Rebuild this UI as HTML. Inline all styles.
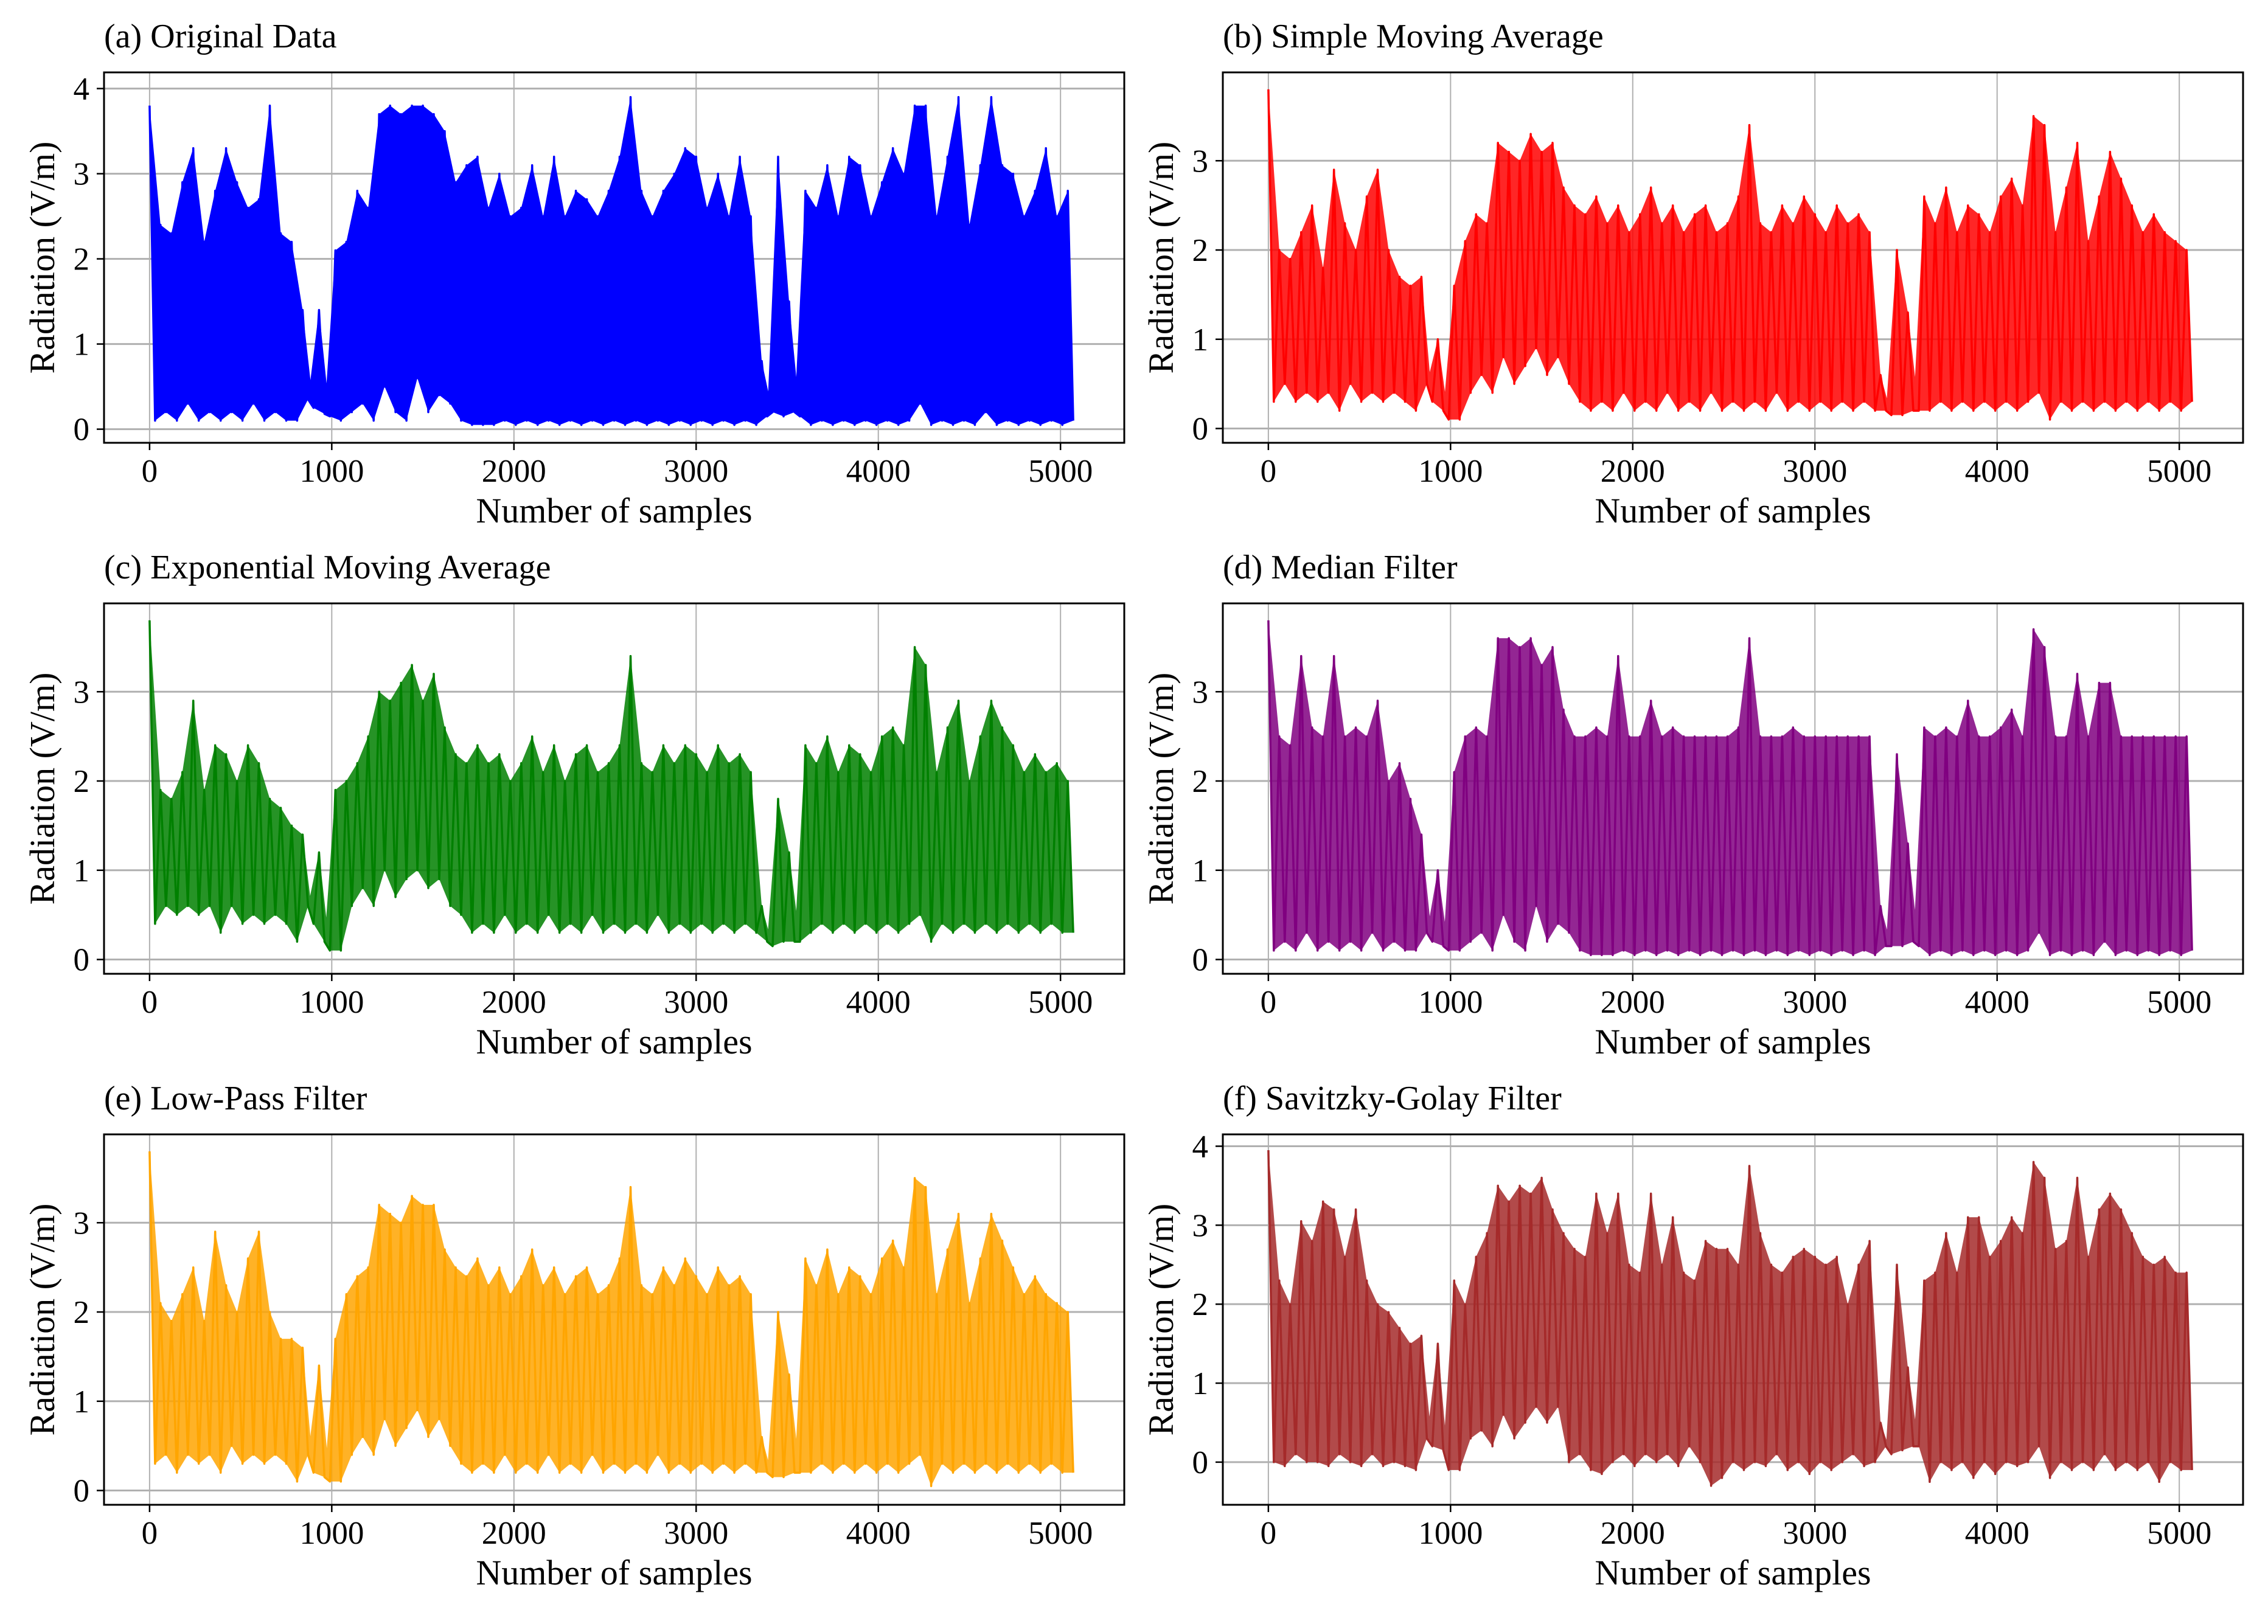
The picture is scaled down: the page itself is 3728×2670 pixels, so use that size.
<!DOCTYPE html>
<html><head><meta charset="utf-8"><style>
html,body{margin:0;padding:0;background:#fff;}
svg{display:block;}
text{font-family:"Liberation Serif","DejaVu Serif",serif;fill:#000;}
</style></head><body>
<svg id="chart" width="3728" height="2670" viewBox="0 0 3728 2670" xmlns="http://www.w3.org/2000/svg"></svg>
<script>
const sampleStep = 30;
const xTicks = [0,1000,2000,3000,4000,5000];
const seriesA = [3.8,0.1,2.4,0.2,2.3,0.1,2.9,0.3,3.3,0.1,2.2,0.2,2.8,0.1,3.3,0.2,2.9,0.1,2.6,0.3,2.7,0.1,3.8,0.2,2.3,0.1,2.2,0.1,
1.4,0.35,0.25,1.4,0.18,0.15, 2.1,0.1,2.2,0.2,
2.8,0.3,2.6,0.1,3.7,0.5,3.8,0.2,3.7,0.1,3.8,0.6,3.8,0.2,3.7,0.4,3.5,0.3,2.9,0.1,3.1,0.05,3.2,
0.05,2.6,0.05,3.0,0.1,2.5,0.05,2.6,0.1,3.1,0.05,2.5,0.1,3.2,0.05,2.5,0.1,2.8,0.05,2.7,0.1,2.5,0.05,2.8,0.1,3.2,0.05,3.9,0.1,2.8,0.05,2.5,0.1,2.8,0.05,3.0,0.1,3.3,0.05,3.2,0.1,2.6,0.05,3.0,0.1,2.5,0.05,3.2,0.1,2.5,0.05,
0.8,0.15,0.2,3.2,0.15,1.5,0.2,0.15,
2.8,0.05,2.6,0.1,3.1,0.05,2.5,0.1,3.2,0.05,3.1,0.1,2.5,0.05,2.9,0.1,3.3,0.05,3.0,0.1,3.8,0.3,3.8,0.05,2.5,0.1,3.2,0.05,3.9,0.1,2.4,0.05,3.1,0.2,3.9,0.05,3.1,0.1,3.0,0.05,2.5,0.1,2.8,0.05,3.3,0.1,2.5,0.05,2.8,0.1];
const seriesB = [3.8,0.3,2.0,0.5,1.9,0.3,2.2,0.4,2.5,0.3,1.8,0.4,2.9,0.2,2.3,0.5,2.0,0.3,2.6,0.4,2.9,0.3,2.0,0.4,1.7,0.3,1.6,0.2,
1.7,0.5,0.3,1.0,0.2,0.1, 1.6,0.1,2.1,0.4,
2.4,0.6,2.3,0.4,3.2,0.8,3.1,0.5,3.0,0.7,3.3,0.9,3.1,0.6,3.2,0.8,2.7,0.5,2.5,0.3,2.4,0.2,2.6,
0.3,2.3,0.2,2.5,0.4,2.2,0.2,2.4,0.3,2.7,0.2,2.3,0.4,2.5,0.2,2.2,0.3,2.4,0.2,2.5,0.4,2.2,0.2,2.3,0.3,2.6,0.2,3.4,0.3,2.3,0.2,2.2,0.4,2.5,0.2,2.3,0.3,2.6,0.2,2.4,0.3,2.2,0.2,2.5,0.3,2.3,0.2,2.4,0.3,2.2,0.2,
0.6,0.2,0.15,2.0,0.15,1.3,0.2,0.2,
2.6,0.2,2.3,0.3,2.7,0.2,2.2,0.3,2.5,0.2,2.4,0.3,2.2,0.2,2.6,0.3,2.8,0.2,2.5,0.3,3.5,0.4,3.4,0.1,2.2,0.3,2.7,0.2,3.2,0.3,2.1,0.2,2.6,0.3,3.1,0.2,2.8,0.3,2.5,0.2,2.2,0.3,2.4,0.2,2.2,0.3,2.1,0.2,2.0,0.3];
const seriesC = [3.8,0.4,1.9,0.6,1.8,0.5,2.1,0.6,2.9,0.5,1.9,0.6,2.4,0.3,2.3,0.6,2.0,0.4,2.4,0.5,2.2,0.4,1.8,0.5,1.7,0.4,1.5,0.2,
1.4,0.6,0.4,1.2,0.2,0.1, 1.9,0.1,2.0,0.6,
2.2,0.8,2.5,0.6,3.0,1.0,2.9,0.7,3.1,0.9,3.3,1.0,2.9,0.8,3.2,0.9,2.6,0.6,2.3,0.5,2.2,0.3,2.4,
0.4,2.2,0.3,2.3,0.5,2.0,0.3,2.2,0.4,2.5,0.3,2.1,0.5,2.4,0.3,2.0,0.4,2.3,0.3,2.4,0.5,2.1,0.3,2.2,0.4,2.4,0.3,3.4,0.4,2.2,0.3,2.1,0.5,2.4,0.3,2.2,0.4,2.4,0.3,2.3,0.4,2.1,0.3,2.4,0.4,2.2,0.3,2.3,0.4,2.1,0.3,
0.6,0.2,0.15,1.8,0.2,1.2,0.2,0.2,
2.4,0.3,2.2,0.4,2.5,0.3,2.1,0.4,2.4,0.3,2.3,0.4,2.1,0.3,2.5,0.4,2.6,0.3,2.4,0.4,3.5,0.5,3.3,0.2,2.1,0.4,2.6,0.3,2.9,0.4,2.0,0.3,2.5,0.4,2.9,0.3,2.6,0.4,2.4,0.3,2.1,0.4,2.3,0.3,2.1,0.4,2.2,0.3,2.0,0.3];
const seriesD = [3.8,0.1,2.5,0.2,2.4,0.1,3.4,0.3,2.6,0.1,2.5,0.2,3.4,0.1,2.5,0.2,2.6,0.1,2.5,0.3,2.9,0.1,2.0,0.2,2.2,0.1,1.8,0.1,
1.4,0.3,0.2,1.0,0.15,0.1, 2.1,0.1,2.5,0.2,
2.6,0.3,2.5,0.1,3.6,0.5,3.6,0.2,3.5,0.1,3.6,0.6,3.3,0.2,3.5,0.4,2.8,0.3,2.5,0.1,2.5,0.05,2.6,
0.05,2.5,0.05,3.4,0.1,2.5,0.05,2.5,0.1,2.9,0.05,2.5,0.1,2.6,0.05,2.5,0.1,2.5,0.05,2.5,0.1,2.5,0.05,2.5,0.1,2.6,0.05,3.6,0.1,2.5,0.05,2.5,0.1,2.5,0.05,2.6,0.1,2.5,0.05,2.5,0.1,2.5,0.05,2.5,0.1,2.5,0.05,2.5,0.1,2.5,0.05,
0.6,0.15,0.15,2.3,0.15,1.3,0.2,0.15,
2.6,0.05,2.5,0.1,2.6,0.05,2.5,0.1,2.9,0.05,2.5,0.1,2.5,0.05,2.6,0.1,2.8,0.05,2.5,0.1,3.7,0.3,3.5,0.05,2.5,0.1,2.5,0.05,3.2,0.1,2.5,0.05,3.1,0.2,3.1,0.05,2.5,0.1,2.5,0.05,2.5,0.1,2.5,0.05,2.5,0.1,2.5,0.05,2.5,0.1];
const seriesE = [3.8,0.3,2.1,0.4,1.9,0.2,2.2,0.4,2.5,0.3,1.9,0.4,2.9,0.2,2.3,0.5,2.0,0.3,2.6,0.4,2.9,0.3,2.0,0.4,1.7,0.3,1.7,0.1,
1.6,0.4,0.2,1.4,0.15,0.1, 1.7,0.1,2.2,0.4,
2.4,0.6,2.5,0.4,3.2,0.8,3.1,0.5,3.0,0.7,3.3,0.9,3.2,0.6,3.2,0.8,2.7,0.5,2.5,0.3,2.4,0.2,2.6,
0.3,2.3,0.2,2.5,0.4,2.2,0.2,2.4,0.3,2.7,0.2,2.3,0.4,2.5,0.2,2.2,0.3,2.4,0.2,2.5,0.4,2.2,0.2,2.3,0.3,2.6,0.2,3.4,0.3,2.3,0.2,2.2,0.4,2.5,0.2,2.3,0.3,2.6,0.2,2.4,0.3,2.2,0.2,2.5,0.3,2.3,0.2,2.4,0.3,2.2,0.2,
0.6,0.2,0.15,2.0,0.15,1.3,0.2,0.2,
2.6,0.2,2.3,0.3,2.7,0.2,2.2,0.3,2.5,0.2,2.4,0.3,2.2,0.2,2.6,0.3,2.8,0.2,2.5,0.3,3.5,0.4,3.4,0.05,2.2,0.3,2.7,0.2,3.1,0.3,2.1,0.2,2.6,0.3,3.1,0.2,2.8,0.3,2.5,0.2,2.2,0.3,2.4,0.2,2.2,0.3,2.1,0.2,2.0,0.2];
const seriesF = [3.95,0.0,2.3,-0.05,2.0,0.1,3.05,0.0,2.8,0.0,3.3,-0.05,3.2,0.1,2.6,0.0,3.2,-0.05,2.3,0.1,2.0,-0.05,1.9,0.0,1.7,-0.05,1.5,-0.1,
1.6,0.3,0.2,1.5,0.15,-0.1, 2.3,-0.1,2.0,0.3,
2.6,0.4,2.9,0.2,3.5,0.6,3.3,0.3,3.5,0.5,3.4,0.7,3.6,0.5,3.2,0.7,2.9,0.0,2.7,0.1,2.6,-0.1,3.4,
-0.15,2.9,0.0,3.4,0.1,2.5,-0.05,2.4,0.1,3.4,0.0,2.5,0.1,3.1,-0.05,2.4,0.2,2.3,0.0,2.8,-0.3,2.7,-0.2,2.7,0.0,2.5,-0.1,3.75,0.0,2.9,-0.05,2.5,0.1,2.4,-0.1,2.6,0.0,2.7,-0.15,2.6,0.0,2.5,-0.1,2.6,0.0,2.0,0.1,2.5,-0.05,2.8,0.0,
0.5,0.2,0.1,2.5,0.15,1.2,0.2,0.2,
2.3,-0.25,2.4,0.0,2.9,-0.1,2.4,0.0,3.1,-0.2,3.1,0.0,2.6,-0.15,2.8,0.0,3.1,-0.05,2.9,0.0,3.8,0.2,3.6,-0.2,2.7,0.0,2.8,-0.1,3.6,0.0,2.6,-0.1,3.2,0.1,3.4,-0.1,3.2,0.0,2.9,-0.1,2.6,0.0,2.5,-0.25,2.6,0.0,2.4,-0.1,2.4,-0.1];
const yTicksA = [0,1,2,3,4];
const yTicksMid = [0,1,2,3];

const panels = [
 {key:'a', title:'(a) Original Data', color:'#0000ff', data:seriesA, col:0,row:0, ymin:-0.16, ymax:4.19, yticks:yTicksA, op:1},
 {key:'b', title:'(b) Simple Moving Average', color:'#ff0000', data:seriesB, col:1,row:0, ymin:-0.16, ymax:3.99, yticks:yTicksMid, op:0.85},
 {key:'c', title:'(c) Exponential Moving Average', color:'#008000', data:seriesC, col:0,row:1, ymin:-0.16, ymax:3.99, yticks:yTicksMid, op:0.85},
 {key:'d', title:'(d) Median Filter', color:'#800080', data:seriesD, col:1,row:1, ymin:-0.16, ymax:3.99, yticks:yTicksMid, op:0.85},
 {key:'e', title:'(e) Low-Pass Filter', color:'#ffa500', data:seriesE, col:0,row:2, ymin:-0.16, ymax:3.99, yticks:yTicksMid, op:0.85},
 {key:'f', title:'(f) Savitzky-Golay Filter', color:'#a52a2a', data:seriesF, col:1,row:2, ymin:-0.54, ymax:4.15, yticks:yTicksA, op:0.85}
];
const NS='http://www.w3.org/2000/svg';
const svg=document.getElementById('chart');
function mk(tag,attrs,parent){const e=document.createElementNS(NS,tag);for(const k in attrs)e.setAttribute(k,attrs[k]);(parent||svg).appendChild(e);return e;}

panels.forEach(p=>{
  const L = 171 + p.col*1839, R = L+1677;
  const T = 119 + p.row*873, B = T+609;
  const xS = v => L + (v+250)/5600*(R-L);
  const yS = v => B - (v-p.ymin)/(p.ymax-p.ymin)*(B-T);
  const g = mk('g',{});
  
  
  const title = mk('text',{x:L,y:T-41,'font-size':56},g);
  title.textContent=p.title;
  
  
  xTicks.forEach(t=>{
    const gl = mk('line',{x1:xS(t),x2:xS(t),y1:T,y2:B,stroke:'#b0b0b0','stroke-width':2},g);
    
    
    mk('line',{x1:xS(t),x2:xS(t),y1:B,y2:B+12,stroke:'#000','stroke-width':2.5},g);
    const tl = mk('text',{x:xS(t),y:B+64,'font-size':53,'text-anchor':'middle'},g);
    tl.textContent=t;
    
    
  });
  p.yticks.forEach(t=>{
    const gl = mk('line',{x1:L,x2:R,y1:yS(t),y2:yS(t),stroke:'#b0b0b0','stroke-width':3},g);
    
    
    mk('line',{x1:L-12,x2:L,y1:yS(t),y2:yS(t),stroke:'#000','stroke-width':2.5},g);
    const tl = mk('text',{x:L-24,y:yS(t)+18,'font-size':53,'text-anchor':'end'},g);
    tl.textContent=t;
    
    
  });
  // dense fill: triangles between each three consecutive samples (fills zigzag interior)
  let d='';
  const P = i => xS(i*sampleStep).toFixed(1)+' '+yS(p.data[i]).toFixed(1);
  for(let i=1;i<p.data.length-1;i++){ d+='M'+P(i-1)+' L'+P(i)+' L'+P(i+1)+' Z '; }
  const band = mk('path',{d:d,fill:p.color,opacity:p.op},g);
  
  
  const pts = p.data.map((v,i)=>xS(i*sampleStep).toFixed(1)+','+yS(v).toFixed(1)).join(' ');
  const line = mk('polyline',{points:pts,fill:'none',stroke:p.color,'stroke-width':3.5,'stroke-linejoin':'round'},g);
  
  
  const frame = mk('rect',{x:L,y:T,width:R-L,height:B-T,fill:'none',stroke:'#000','stroke-width':3},g);
  
  
  const xl = mk('text',{x:(L+R)/2,y:B+131,'font-size':58,'text-anchor':'middle'},g);
  xl.textContent='Number of samples';
  
  
  const cy=(T+B)/2;
  const yl = mk('text',{x:L-100,y:cy,'font-size':58,'text-anchor':'middle',transform:'rotate(-90 '+(L-100)+' '+cy+')'},g);
  yl.setAttribute('dy','18');
  yl.textContent='Radiation (V/m)';
  
  
});
</script>
</body></html>
